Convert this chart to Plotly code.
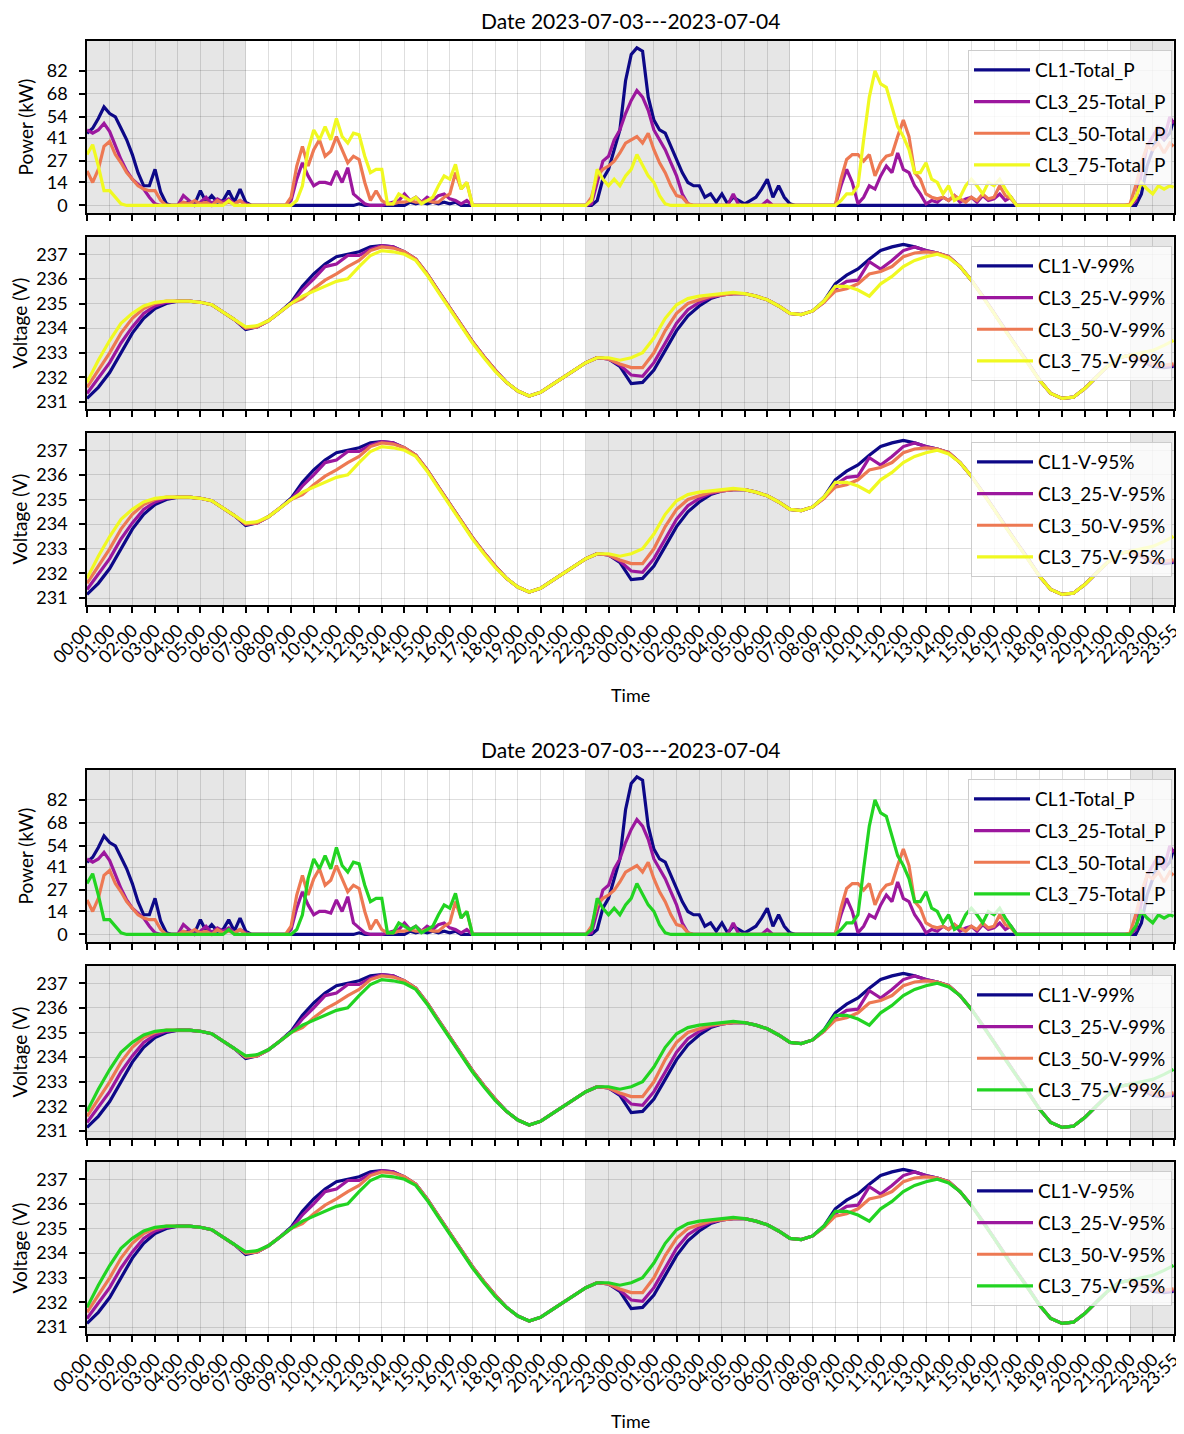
import plotly.graph_objects as go

FONT = "Lato"
# the page adds an 8 px body margin, so the figure is 8 px smaller and shifted
W, H = 1176, 1426
ML = 79
MR = 10

# ---------------- data ----------------
x_tick_labels = [
    "00:00", "01:00", "02:00", "03:00", "04:00", "05:00", "06:00", "07:00",
    "08:00", "09:00", "10:00", "11:00", "12:00", "13:00", "14:00", "15:00",
    "16:00", "17:00", "18:00", "19:00", "20:00", "21:00", "22:00", "23:00",
    "00:00", "01:00", "02:00", "03:00", "04:00", "05:00", "06:00", "07:00",
    "08:00", "09:00", "10:00", "11:00", "12:00", "13:00", "14:00", "15:00",
    "16:00", "17:00", "18:00", "19:00", "20:00", "21:00", "22:00", "23:00",
    "23:55",
]
END_H = 47 + 55 / 60
x_tick_hours = list(range(48)) + [END_H]

shade_start = [0, 22, 46]
shade_end = [7, 31, END_H]

power_ticks = [0, 14, 27, 41, 54, 68, 82]
volt_ticks = [231, 232, 233, 234, 235, 236, 237]

series = ["CL1", "CL3_25", "CL3_50", "CL3_75"]
colors_fig1 = ["#0d0887", "#9c179e", "#ed7953", "#f0f921"]
colors_fig2 = ["#0d0887", "#9c179e", "#ed7953", "#22d422"]

# Power (kW), 15-minute samples, 4 per hour, plus the 23:55 value
p_cl1 = [
    44, 47, 53, 60,  56, 54, 47, 40,  31, 20, 12, 12,  22, 8, 1, 0,
    0, 1, 2, 1,  9, 2, 6, 2,  3, 9, 2, 10,  2, 0, 0, 0,
    0, 0, 0, 0,  0, 0, 0, 0,  0, 0, 0, 0,  0, 0, 0, 0,
    1, 0, 0, 0,  0, 0, 0, 0,  0, 2, 1, 2,  1, 2, 1, 2,
    1, 2, 0, 0,  0, 0, 0, 0,  0, 0, 0, 0,  0, 0, 0, 0,
    0, 0, 0, 0,  0, 0, 0, 0,  0, 0, 3, 16,  22, 34, 46, 76,
    92, 96, 94, 66,  52, 46, 44, 36,  28, 20, 14, 12,  12, 5, 7, 2,
    7, 1, 5, 3,  1, 3, 5, 10,  16, 5, 12, 5,  1, 0, 0, 0,
    0, 0, 0, 0,  0, 0, 0, 0,  0, 0, 0, 0,  0, 0, 0, 0,
    0, 0, 0, 0,  0, 0, 0, 0,  0, 0, 0, 0,  0, 0, 0, 0,
    0, 0, 0, 0,  0, 0, 0, 0,  0, 0, 0, 0,  0, 0, 0, 0,
    0, 0, 0, 0,  0, 0, 0, 0,  0, 0, 7, 24,  34, 44, 40, 44,
    52,
]
p_cl3_25 = [
    46, 44, 46, 50,  45, 36, 28, 21,  16, 13, 10, 5,  1, 0, 0, 0,
    0, 6, 3, 0,  2, 5, 1, 4,  2, 4, 1, 3,  1, 0, 0, 0,
    0, 0, 0, 0,  3, 16, 26, 18,  12, 14, 14, 13,  21, 14, 23, 7,
    4, 1, 0, 0,  0, 1, 2, 3,  7, 3, 5, 2,  5, 3, 6, 7,
    4, 3, 1, 3,  0, 0, 0, 0,  0, 0, 0, 0,  0, 0, 0, 0,
    0, 0, 0, 0,  0, 0, 0, 0,  0, 1, 14, 27,  30, 40, 46, 56,
    64, 70, 66, 58,  46, 40, 34, 26,  18, 7, 1, 0,  0, 0, 0, 0,
    0, 0, 7, 0,  0, 0, 0, 0,  3, 0, 0, 0,  0, 0, 0, 0,
    0, 0, 0, 0,  0, 12, 22, 14,  1, 5, 12, 10,  18, 24, 20, 32,
    22, 20, 12, 7,  1, 3, 2, 5,  3, 6, 2, 4,  5, 2, 6, 3,
    4, 7, 3, 5,  0, 0, 0, 0,  0, 0, 0, 0,  0, 0, 0, 0,
    0, 0, 0, 0,  0, 0, 0, 0,  0, 3, 20, 36,  42, 48, 40, 54,
    50,
]
p_cl3_50 = [
    21, 14, 22, 36,  39, 31, 26, 20,  16, 12, 10, 9,  9, 3, 0, 0,
    0, 2, 1, 3,  1, 2, 0, 3,  1, 2, 1, 3,  0, 0, 0, 0,
    0, 0, 0, 0,  5, 24, 36, 24,  34, 40, 30, 33,  42, 34, 26, 30,
    28, 14, 3, 9,  3, 1, 1, 2,  2, 3, 2, 2,  3, 2, 2, 5,
    7, 20, 10, 14,  0, 0, 0, 0,  0, 0, 0, 0,  0, 0, 0, 0,
    0, 0, 0, 0,  0, 0, 0, 0,  0, 5, 18, 22,  24, 27, 32, 38,
    40, 42, 38, 44,  34, 26, 20, 12,  6, 5, 1, 0,  0, 0, 0, 0,
    0, 0, 0, 0,  0, 0, 0, 0,  0, 0, 0, 0,  0, 0, 0, 0,
    0, 0, 0, 0,  0, 16, 28, 31,  31, 27, 31, 18,  26, 30, 31, 42,
    52, 42, 20, 16,  7, 5, 4, 5,  3, 6, 4, 2,  5, 3, 7, 4,
    5, 12, 6, 4,  0, 0, 0, 0,  0, 0, 0, 0,  0, 0, 0, 0,
    0, 0, 0, 0,  0, 0, 0, 0,  1, 12, 26, 36,  34, 38, 32, 38,
    36,
]
p_cl3_75 = [
    31, 37, 24, 9,  9, 5, 1, 0,  0, 0, 0, 0,  0, 0, 0, 0,
    0, 0, 0, 0,  0, 0, 0, 0,  0, 3, 0, 0,  0, 0, 0, 0,
    0, 0, 0, 0,  0, 3, 12, 34,  46, 40, 48, 40,  53, 42, 38, 44,
    43, 30, 20, 22,  22, 1, 1, 7,  5, 3, 5, 1,  3, 5, 12, 18,
    16, 25, 10, 14,  0, 0, 0, 0,  0, 0, 0, 0,  0, 0, 0, 0,
    0, 0, 0, 0,  0, 0, 0, 0,  0, 3, 22, 16,  12, 16, 12, 18,
    22, 31, 24, 18,  14, 6, 1, 0,  0, 0, 0, 0,  0, 0, 0, 0,
    0, 0, 0, 0,  0, 0, 0, 0,  0, 0, 0, 0,  0, 0, 0, 0,
    0, 0, 0, 0,  0, 3, 7, 7,  12, 40, 66, 82,  74, 72, 60, 48,
    42, 34, 20, 20,  26, 16, 14, 7,  12, 3, 5, 12,  16, 12, 7, 14,
    12, 16, 10, 5,  0, 0, 0, 0,  0, 0, 0, 0,  0, 0, 0, 0,
    0, 0, 0, 0,  0, 0, 0, 0,  0, 5, 14, 10,  7, 12, 10, 12,
    11,
]

# Voltage 99 % (V), 30-minute samples, plus the 23:55 value
v99_cl1 = [
    231.15, 231.6, 232.2, 233.0, 233.8, 234.4, 234.8, 235.0,
    235.1, 235.1, 235.05, 234.95, 234.65, 234.35, 233.95, 234.05,
    234.3, 234.65, 235.05, 235.7, 236.2, 236.6, 236.9, 237.0,
    237.1, 237.3, 237.35, 237.3, 237.1, 236.8, 236.2, 235.5,
    234.8, 234.1, 233.45, 232.85, 232.3, 231.8, 231.45, 231.25,
    231.4, 231.7, 232.0, 232.3, 232.6, 232.8, 232.75, 232.45,
    231.75, 231.8, 232.3, 233.1, 233.9, 234.5, 234.9, 235.2,
    235.35, 235.4, 235.4, 235.3, 235.15, 234.9, 234.6, 234.55,
    234.7, 235.1, 235.8, 236.15, 236.4, 236.8, 237.15, 237.3,
    237.4, 237.3, 237.15, 237.05, 236.9, 236.5, 235.95, 235.3,
    234.6, 233.9, 233.25, 232.6, 231.9, 231.35, 231.15, 231.2,
    231.55, 232.0, 232.45, 232.8, 232.9, 232.7, 232.45, 232.4,
    232.45,
]
v99_cl3_25 = [
    231.35, 232.0, 232.6, 233.4, 234.05, 234.6, 234.9, 235.05,
    235.1, 235.1, 235.05, 234.95, 234.65, 234.35, 234.0, 234.05,
    234.3, 234.65, 235.0, 235.55, 236.0, 236.5, 236.6, 236.95,
    236.95, 237.2, 237.35, 237.3, 237.1, 236.8, 236.2, 235.5,
    234.8, 234.1, 233.45, 232.85, 232.3, 231.8, 231.45, 231.25,
    231.4, 231.7, 232.0, 232.3, 232.6, 232.8, 232.75, 232.5,
    232.1, 232.05, 232.6, 233.4, 234.2, 234.75, 235.05, 235.25,
    235.35, 235.4, 235.4, 235.3, 235.15, 234.9, 234.6, 234.55,
    234.7, 235.05, 235.6, 235.9, 235.95, 236.7, 236.4, 236.75,
    237.15, 237.3, 237.15, 237.05, 236.9, 236.5, 235.95, 235.3,
    234.6, 233.9, 233.25, 232.6, 231.9, 231.35, 231.15, 231.2,
    231.55, 232.0, 232.45, 232.8, 232.9, 232.7, 232.5, 232.45,
    232.5,
]
v99_cl3_50 = [
    231.6, 232.3, 233.0, 233.8, 234.4, 234.8, 235.0, 235.1,
    235.1, 235.1, 235.05, 234.95, 234.65, 234.35, 234.0, 234.05,
    234.3, 234.65, 235.0, 235.2, 235.6, 235.95, 236.2, 236.5,
    236.75, 237.15, 237.3, 237.25, 237.1, 236.8, 236.2, 235.5,
    234.8, 234.1, 233.45, 232.85, 232.3, 231.8, 231.45, 231.25,
    231.4, 231.7, 232.0, 232.3, 232.6, 232.8, 232.75, 232.55,
    232.4, 232.4, 233.0, 233.9, 234.6, 235.0, 235.15, 235.3,
    235.35, 235.4, 235.4, 235.3, 235.15, 234.9, 234.6, 234.55,
    234.7, 235.05, 235.5, 235.6, 235.8, 236.2, 236.3, 236.5,
    236.9, 237.05, 237.1, 237.05, 236.9, 236.5, 235.95, 235.3,
    234.6, 233.9, 233.25, 232.6, 231.9, 231.35, 231.15, 231.2,
    231.55, 232.0, 232.45, 232.8, 232.9, 232.75, 232.55, 232.5,
    232.55,
]
v99_cl3_75 = [
    231.8, 232.7, 233.5, 234.2, 234.6, 234.9, 235.05, 235.1,
    235.1, 235.1, 235.05, 234.95, 234.65, 234.35, 234.05, 234.1,
    234.3, 234.65, 235.0, 235.3, 235.5, 235.7, 235.9, 236.0,
    236.5, 236.95, 237.15, 237.1, 237.0, 236.75, 236.15, 235.45,
    234.75, 234.05, 233.4, 232.8, 232.25, 231.8, 231.45, 231.25,
    231.4, 231.7, 232.0, 232.3, 232.6, 232.8, 232.8, 232.7,
    232.8, 233.0, 233.6, 234.4, 234.95, 235.2, 235.3, 235.35,
    235.4, 235.45, 235.4, 235.3, 235.15, 234.9, 234.6, 234.55,
    234.7, 235.1, 235.7, 235.7, 235.55, 235.3, 235.8, 236.1,
    236.5, 236.75, 236.9, 237.0, 236.85, 236.5, 235.95, 235.3,
    234.6, 233.9, 233.25, 232.6, 231.9, 231.35, 231.15, 231.2,
    231.55, 232.0, 232.45, 232.8, 232.9, 233.0, 233.1, 233.3,
    233.5,
]
# Voltage 95 % reads the same as the 99 % panel in the picture
v95_cl1 = list(v99_cl1)
v95_cl3_25 = list(v99_cl3_25)
v95_cl3_50 = list(v99_cl3_50)
v95_cl3_75 = list(v99_cl3_75)

power_data = [p_cl1, p_cl3_25, p_cl3_50, p_cl3_75]
v99_data = [v99_cl1, v99_cl3_25, v99_cl3_50, v99_cl3_75]
v95_data = [v95_cl1, v95_cl3_25, v95_cl3_50, v95_cl3_75]


def time_axis(values, step):
    return [i * step for i in range(len(values) - 1)] + [END_H]


# ---------------- layout (figure pixel coordinates) ----------------
panel_tops = [33, 229, 425, 762, 958, 1154]
PH = 172
title_y = [13, 742]
time_y = [687, 1413]
LEG_RIGHT = 1164
PLOT_W = W - ML - MR

panels = [
    ("power", power_data, 0.25, "Total_P", colors_fig1),
    ("volt", v99_data, 0.5, "V-99%", colors_fig1),
    ("volt", v95_data, 0.5, "V-95%", colors_fig1),
    ("power", power_data, 0.25, "Total_P", colors_fig2),
    ("volt", v99_data, 0.5, "V-99%", colors_fig2),
    ("volt", v95_data, 0.5, "V-95%", colors_fig2),
]

fig = go.Figure()
layout = dict(
    width=W, height=H,
    margin=dict(l=ML, r=MR, t=0, b=0, autoexpand=False),
    paper_bgcolor="white", plot_bgcolor="white",
    font=dict(family=FONT, size=18, color="black"),
    showlegend=True,
)
shapes = []
annotations = []

for k, (kind, data, step, suffix, cols) in enumerate(panels):
    ax = "" if k == 0 else str(k + 1)
    legname = "legend" if k == 0 else f"legend{k + 1}"
    top = panel_tops[k]
    for j, (name, vals) in enumerate(zip(series, data)):
        fig.add_trace(go.Scatter(
            x=time_axis(vals, step), y=vals, mode="lines",
            name=f"{name}-{suffix}",
            line=dict(color=cols[j], width=3.2),
            xaxis=f"x{ax}", yaxis=f"y{ax}",
            legend=legname, legendgroup=f"g{k}_{j}",
        ))
    xa = dict(
        domain=[0, 1], anchor=f"y{ax}", range=[0, END_H + 0.02],
        tickmode="array", tickvals=x_tick_hours, ticktext=x_tick_labels,
        showticklabels=(k in (2, 5)), tickangle=-45,
        tickfont=dict(size=18), ticklabeloverflow="allow",
        ticks="outside", ticklen=6, tickwidth=1.5, tickcolor="black",
        showline=True, linecolor="black", linewidth=1.6, mirror=True,
        showgrid=True, gridcolor="rgba(0,0,0,0.13)", gridwidth=1,
        zeroline=False, automargin=False,
    )
    if k > 0:
        xa["matches"] = "x"
    if kind == "power":
        yr, yt, ytitle, stand = [-4.6, 100.2], power_ticks, "Power (kW)", 8
    else:
        yr, yt, ytitle, stand = [230.72, 237.7], volt_ticks, "Voltage (V)", 10
    ya = dict(
        domain=[1 - (top + PH) / H, 1 - top / H], anchor=f"x{ax}",
        range=yr, tickmode="array", tickvals=yt,
        tickfont=dict(size=18), ticklabelstandoff=8,
        ticks="outside", ticklen=6, tickwidth=1.5, tickcolor="black",
        showline=True, linecolor="black", linewidth=1.6, mirror=True,
        showgrid=True, gridcolor="rgba(0,0,0,0.13)", gridwidth=1,
        zeroline=False, automargin=False,
        title=dict(text=ytitle, font=dict(size=19), standoff=stand),
    )
    layout[f"xaxis{ax}"] = xa
    layout[f"yaxis{ax}"] = ya
    layout[legname] = dict(
        x=(LEG_RIGHT - ML) / PLOT_W, xanchor="right",
        y=1 - (top + 9) / H, yanchor="top",
        bgcolor="rgba(255,255,255,0.8)", bordercolor="#cccccc", borderwidth=1,
        font=dict(size=19), tracegroupgap=4, itemwidth=56,
    )
    for s, e in zip(shade_start, shade_end):
        shapes.append(dict(
            type="rect", xref=f"x{ax}", yref=f"y{ax} domain",
            x0=s, x1=e, y0=0, y1=1,
            fillcolor="rgba(128,128,128,0.2)", line=dict(width=0),
            layer="below",
        ))

for ty in title_y:
    annotations.append(dict(
        text="Date 2023-07-03---2023-07-04", xref="paper", yref="paper",
        x=0.5, y=1 - ty / H, xanchor="center", yanchor="middle",
        showarrow=False, font=dict(size=21),
    ))
for ty in time_y:
    annotations.append(dict(
        text="Time", xref="paper", yref="paper",
        x=0.5, y=1 - ty / H, xanchor="center", yanchor="middle",
        showarrow=False, font=dict(size=18),
    ))

layout["shapes"] = shapes
layout["annotations"] = annotations
fig.update_layout(**layout)
fig.write_html("out.html")
